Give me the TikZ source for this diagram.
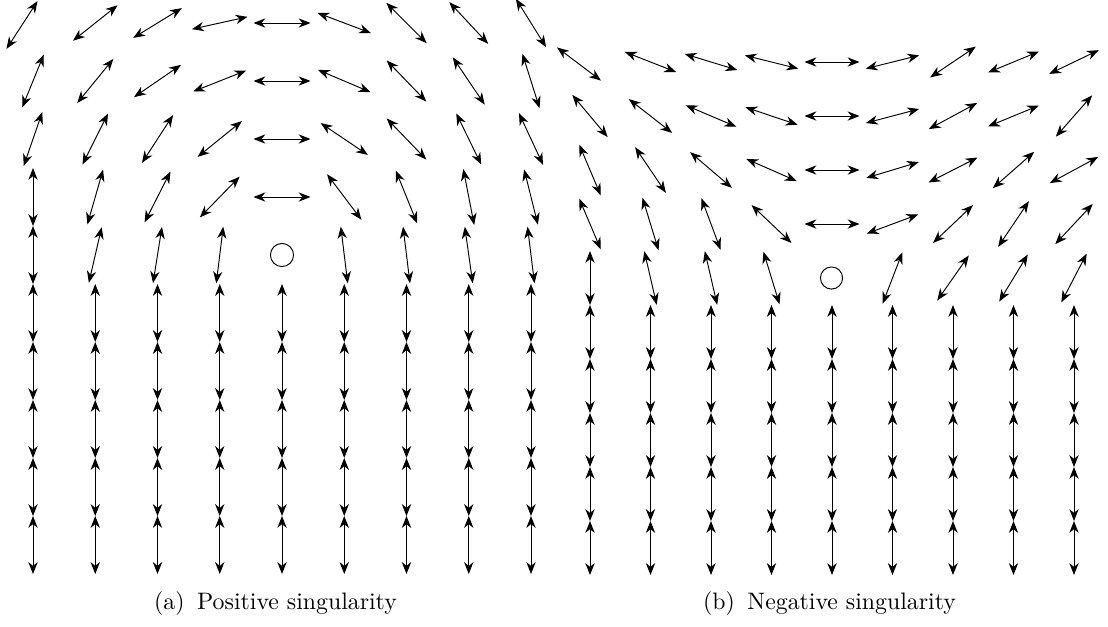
\documentclass[tikz,border=0pt]{standalone}
\usetikzlibrary{arrows.meta}
\tikzset{
  fa/.style={{Stealth[length=5pt,width=3.9pt,inset=1.6pt]}-{Stealth[length=5pt,width=3.9pt,inset=1.6pt]}, line width=0.4pt},
  core/.style={circle, draw, line width=0.4pt, inner sep=0pt},
  captext/.style={anchor=base, font=\normalsize}
}
% \farrow{cx}{cy}{angle}{half length}
\newcommand\farrow[4]{\draw[fa,shift={(#1,#2)},rotate=#3] (-#4,0) -- (#4,0);}
\begin{document}
\begin{tikzpicture}[x=0.42pt,y=-0.42pt]
\useasboundingbox (0,0) rectangle (1108,626);
% ---------------- (a) positive singularity ----------------
\def\h{28.5}
% row 0
\farrow{22}{25}{57}{\h}
\farrow{95.25}{23}{38.5}{\h}
\farrow{157.5}{23}{31.5}{\h}
\farrow{219.75}{23}{12.5}{\h}
\farrow{282}{23}{0}{\h}
\farrow{344.25}{23}{-20.7}{\h}
\farrow{406.5}{23}{-45}{\h}
\farrow{468.75}{23}{-47}{\h}
\farrow{531}{23}{-58}{\h}
% row 1
\farrow{33}{81}{67.8}{\h}
\farrow{95.25}{81}{50.7}{\h}
\farrow{157.5}{81}{34.5}{\h}
\farrow{219.75}{81}{21.6}{\h}
\farrow{282}{81}{0}{\h}
\farrow{344.25}{81}{-23}{\h}
\farrow{406.5}{81}{-46}{\h}
\farrow{468.75}{81}{-56}{\h}
\farrow{531}{81}{-72.5}{\h}
% row 2
\farrow{33}{139}{71}{\h}
\farrow{95.25}{139}{63.4}{\h}
\farrow{157.5}{139}{57}{\h}
\farrow{219.75}{139}{39}{\h}
\farrow{282}{139}{0}{\h}
\farrow{344.25}{139}{-34}{\h}
\farrow{406.5}{139}{-46}{\h}
\farrow{468.75}{139}{-64}{\h}
\farrow{531}{139}{-65}{\h}
% row 3
\farrow{33}{197}{90}{29}
\farrow{95.25}{197}{74}{\h}
\farrow{157.5}{197}{63}{\h}
\farrow{219.75}{197}{45.7}{\h}
\farrow{282}{197}{0}{\h}
\farrow{344.25}{197}{-53}{\h}
\farrow{406.5}{197}{-68}{\h}
\farrow{468.75}{197}{-79}{\h}
\farrow{531}{197}{-76}{\h}
% row 4
\farrow{33}{255}{90}{29}
\farrow{95.25}{255}{77}{\h}
\farrow{157.5}{255}{81}{\h}
\farrow{219.75}{255}{83}{\h}
\node[core, minimum size=9.7pt] (coreA) at (282,255) {};
\farrow{344.25}{255}{-83}{\h}
\farrow{406.5}{255}{-83}{\h}
\farrow{468.75}{255}{-82}{\h}
\farrow{531}{255}{-83}{\h}
% rows 5-9
\foreach \c in {0,...,8}{
  \foreach \r in {5,...,9}{
    \draw[fa] ({33+62.25*\c},{23+58*\r-29}) -- ({33+62.25*\c},{23+58*\r+29});
  }
}
% ---------------- (b) negative singularity ----------------
\def\g{27.5}
% row 0
\farrow{579}{64}{-37}{\g}
\farrow{650.5}{62}{-21.4}{\g}
\farrow{711}{62}{-17}{\g}
\farrow{771.5}{62}{-14}{\g}
\farrow{832}{62}{0}{\g}
\farrow{892.5}{62}{14}{\g}
\farrow{953}{62}{34}{\g}
\farrow{1013.5}{62}{22.4}{\g}
\farrow{1074}{62}{25.6}{\g}
% row 1
\farrow{590}{116}{-50}{\g}
\farrow{650.5}{116}{-38}{\g}
\farrow{711}{116}{-23}{\g}
\farrow{771.5}{116}{-18.5}{\g}
\farrow{832}{116}{0}{\g}
\farrow{892.5}{116}{14.8}{\g}
\farrow{953}{116}{28.4}{\g}
\farrow{1013.5}{116}{22.4}{\g}
\farrow{1074}{116}{48.7}{\g}
% row 2
\farrow{590}{170}{-67}{\g}
\farrow{650.5}{170}{-56}{\g}
\farrow{711}{170}{-40.5}{\g}
\farrow{771.5}{170}{-23.7}{\g}
\farrow{832}{170}{0}{\g}
\farrow{892.5}{170}{16.8}{\g}
\farrow{953}{170}{27}{\g}
\farrow{1013.5}{170}{41.3}{\g}
\farrow{1074}{170}{28.4}{\g}
% row 3
\farrow{590}{224}{-67}{\g}
\farrow{650.5}{224}{-73}{\g}
\farrow{711}{224}{-69.6}{\g}
\farrow{771.5}{224}{-43.5}{\g}
\farrow{832}{224}{0}{\g}
\farrow{892.5}{224}{20.4}{\g}
\farrow{953}{224}{43.5}{\g}
\farrow{1013.5}{224}{56}{\g}
\farrow{1074}{224}{47}{\g}
% row 4
\farrow{590}{278}{90}{27}
\farrow{650.5}{278}{-77}{\g}
\farrow{711}{278}{-77}{\g}
\farrow{771.5}{278}{-73}{\g}
\node[core, minimum size=9.3pt] (coreB) at (831.5,278) {};
\farrow{892.5}{278}{69}{\g}
\farrow{953}{278}{55}{\g}
\farrow{1013.5}{278}{58.7}{\g}
\farrow{1074}{278}{62.5}{\g}
% rows 5-9
\foreach \c in {0,...,8}{
  \foreach \r in {5,...,9}{
    \draw[fa] ({590+60.5*\c},{62+54*\r-27}) -- ({590+60.5*\c},{62+54*\r+27});
  }
}
% ---------------- captions ----------------
\node[captext] (capA) at (275.5,609) {(a)\hspace{5.3pt}Positive singularity};
\node[captext] (capB) at (829.5,609) {(b)\hspace{5.3pt}Negative singularity};
\end{tikzpicture}
\end{document}
